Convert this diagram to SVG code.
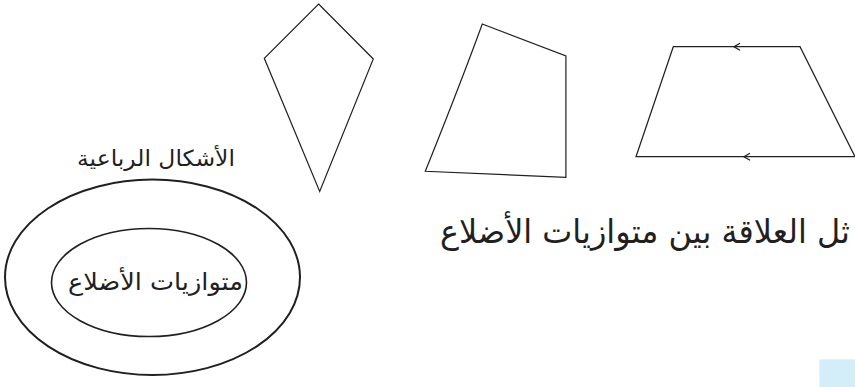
<svg xmlns="http://www.w3.org/2000/svg" width="855" height="387" viewBox="0 0 855 387">
<style>
.shape{fill:none;stroke:#231f20;stroke-width:1.2;stroke-linejoin:miter}
.chev{fill:none;stroke:#231f20;stroke-width:1.3}
.ell{fill:none;stroke:#231f20}
.ar{font-family:"DejaVu Sans",sans-serif;fill:#231f20}
</style>
<rect width="855" height="387" fill="#fff"/>
<g id="kite"><polygon class="shape" points="318.6,4 373.3,59 319.7,191.5 264.3,58.3"/></g>
<g id="quad"><path class="shape" d="M482.3,24 L565.9,56 L565.9,177.3 L425.3,171.3 Q460,85 482.3,24 Z"/></g>
<g id="trapezoid">
<polygon class="shape" points="673.3,46.7 800,46.7 855,156.7 636,156.7"/>
<path class="chev" d="M740,43.2 L734,46.7 L740,50.2"/>
<path class="chev" d="M750,153.2 L744,156.7 L750,160.2"/>
</g>
<g id="quadrilaterals">
<ellipse class="ell" cx="152.5" cy="277.3" rx="147.5" ry="97.7" stroke-width="2"/>
<text class="ar" x="156" y="166" font-size="22" text-anchor="middle" direction="rtl" textLength="158" lengthAdjust="spacingAndGlyphs">الأشكال الرباعية</text>
</g>
<g id="parallelograms">
<ellipse class="ell" cx="149" cy="282.5" rx="97.5" ry="54" stroke-width="1.6"/>
<text class="ar" x="155.5" y="290" font-size="24" text-anchor="middle" direction="rtl" textLength="175" lengthAdjust="spacingAndGlyphs">متوازيات الأضلاع</text>
</g>
<text class="ar" x="850" y="243" font-size="33" text-anchor="end" textLength="410" lengthAdjust="spacingAndGlyphs">ثل العلاقة بين متوازيات الأضلاع</text>
<rect x="819.3" y="359.3" width="35.7" height="27.7" fill="#d4eef9"/>
</svg>
